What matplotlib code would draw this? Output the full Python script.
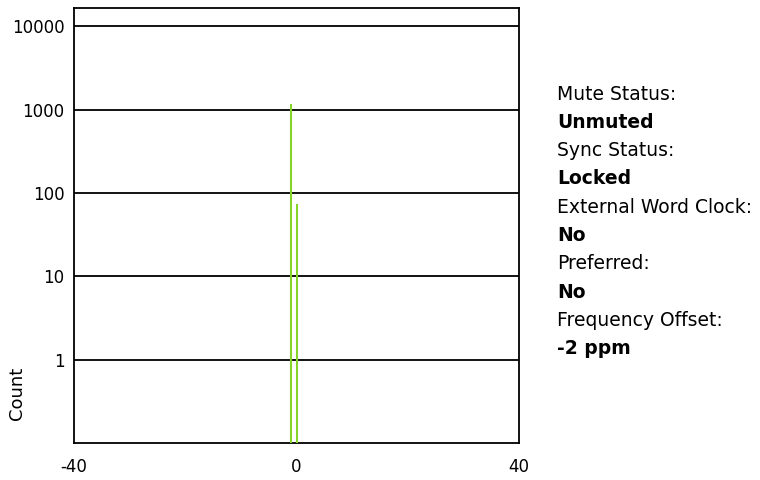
import numpy as np
import matplotlib
matplotlib.use('Agg')
import matplotlib.pyplot as plt

## data ##
offsets = [-1, 0]
counts = [1170, 73]
y_ticks = [1, 10, 100, 1000, 10000]
y_tick_labels = ['1', '10', '100', '1000', '10000']
x_ticks = [-40, 0, 40]
x_tick_labels = ['-40', '0', '40']
status_labels = ['Mute Status:', 'Sync Status:', 'External Word Clock:', 'Preferred:', 'Frequency Offset:']
status_values = ['Unmuted', 'Locked', 'No', 'No', '-2 ppm']

plt.rcParams['font.family'] = 'DejaVu Sans'

fig = plt.figure(figsize=(7.6, 4.8), dpi=100)
ax = fig.add_axes([74 / 760, 1 - 443 / 480, 445 / 760, 435 / 480])

# histogram spikes
ax.vlines(offsets, 0.1, counts, colors='#84d42a', linewidth=1.5, zorder=3)

ax.set_yscale('log')
ax.set_ylim(0.1, 16500)
ax.set_xlim(-40, 40)

# horizontal grid lines at each decade
for t in y_ticks:
    ax.axhline(t, color='black', linewidth=1.3, zorder=2)

ax.set_yticks(y_ticks)
ax.set_yticklabels(y_tick_labels)
ax.yaxis.set_minor_locator(matplotlib.ticker.NullLocator())
ax.set_xticks(x_ticks)
ax.set_xticklabels(x_tick_labels)
ax.tick_params(length=0, labelsize=12)
ax.tick_params(axis='y', pad=7)
ax.tick_params(axis='x', pad=11)
for s in ax.spines.values():
    s.set_linewidth(1.3)

fig.text(17 / 760, 1 - 393 / 480, 'Count', rotation=90, fontsize=13, ha='center', va='center')

# status panel on the right
y = 94
for lab, val in zip(status_labels, status_values):
    fig.text(557 / 760, 1 - y / 480, lab, fontsize=13.5, va='center')
    y += 28.3
    fig.text(557 / 760, 1 - y / 480, val, fontsize=13.5, fontweight='bold', va='center')
    y += 28.3

fig.savefig('out.png', dpi=100)
